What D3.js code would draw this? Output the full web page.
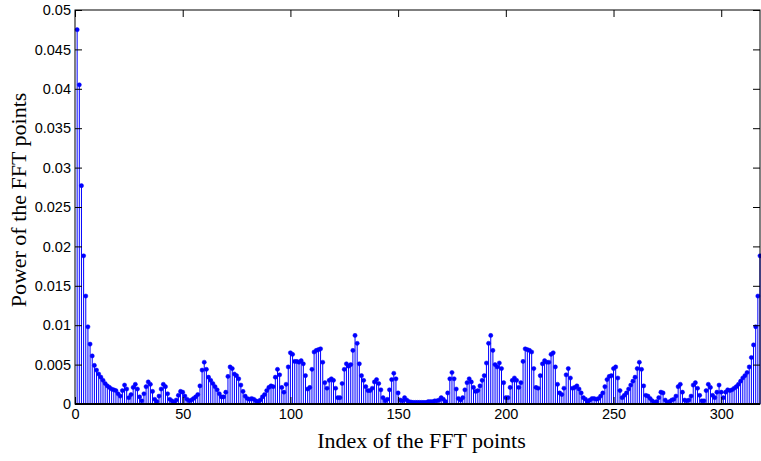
<!DOCTYPE html>
<html><head><meta charset="utf-8">
<script src="https://cdn.jsdelivr.net/npm/d3@7"></script>
<style>body{margin:0;background:#fff}svg{display:block}</style>
</head><body>
<svg id="chart" width="761" height="461"></svg>
<script>
const power = [
0.0475,0.0405,0.0277,0.0188,0.0137,0.0098,0.0076,0.0061,0.0049,0.0043,
0.0038,0.0034,0.0030,0.0026,0.0023,0.0021,0.0019,0.0018,0.0017,0.0013,
0.0010,0.0017,0.0024,0.0019,0.0008,0.0012,0.0021,0.0025,0.0019,0.0009,
0.0004,0.0013,0.0022,0.0028,0.0025,0.0016,0.0006,0.0003,0.0010,0.0019,
0.0025,0.0022,0.0013,0.0006,0.0004,0.0002,0.0005,0.0011,0.0016,0.0015,
0.0010,0.0006,0.0004,0.0005,0.0007,0.0009,0.0012,0.0023,0.0043,0.0053,
0.0044,0.0034,0.0030,0.0026,0.0022,0.0018,0.0013,0.0009,0.0009,0.0015,
0.0035,0.0047,0.0045,0.0038,0.0036,0.0032,0.0024,0.0016,0.0010,0.0007,
0.0006,0.0007,0.0006,0.0004,0.0003,0.0005,0.0009,0.0012,0.0017,0.0021,
0.0023,0.0022,0.0034,0.0044,0.0037,0.0021,0.0015,0.0025,0.0047,0.0065,
0.0063,0.0054,0.0054,0.0053,0.0055,0.0051,0.0036,0.0019,0.0021,0.0044,
0.0066,0.0068,0.0069,0.0070,0.0053,0.0027,0.0020,0.0030,0.0032,0.0030,
0.0020,0.0008,0.0008,0.0026,0.0044,0.0051,0.0048,0.0050,0.0068,0.0087,
0.0077,0.0051,0.0036,0.0030,0.0022,0.0017,0.0017,0.0020,0.0028,0.0031,
0.0026,0.0018,0.0008,0.0004,0.0006,0.0018,0.0031,0.0039,0.0032,0.0014,
0.0005,0.0004,0.0008,0.0005,0.0003,0.00025,0.0002,0.0002,0.0002,0.0002,
0.0002,0.0002,0.0002,0.0003,0.0003,0.0003,0.0004,0.0004,0.0005,0.0008,
0.0006,0.0003,0.0014,0.0032,0.0040,0.0032,0.0019,0.0007,0.0005,0.0008,
0.0018,0.0027,0.0032,0.0028,0.0021,0.0016,0.0017,0.0023,0.0030,0.0036,
0.0052,0.0077,0.0087,0.0068,0.0050,0.0047,0.0052,0.0045,0.0027,0.0008,
0.0008,0.0021,0.0030,0.0033,0.0030,0.0021,0.0027,0.0054,0.0070,0.0069,
0.0068,0.0066,0.0045,0.0021,0.0020,0.0036,0.0051,0.0055,0.0053,0.0053,
0.0063,0.0065,0.0047,0.0025,0.0014,0.0012,0.0020,0.0037,0.0045,0.0033,
0.0020,0.0021,0.0023,0.0019,0.0014,0.0008,0.0006,0.0003,0.0005,0.0007,
0.0007,0.0006,0.0007,0.0010,0.0014,0.0022,0.0031,0.0035,0.0036,0.0045,
0.0047,0.0033,0.0017,0.0008,0.0011,0.0014,0.0019,0.0024,0.0029,0.0034,
0.0045,0.0053,0.0044,0.0023,0.0011,0.0010,0.0007,0.0004,0.0002,0.0003,
0.0008,0.0015,0.0014,0.0005,0.0002,0.0003,0.0005,0.0006,0.0010,0.0022,
0.0025,0.0015,0.0005,0.0004,0.0005,0.0010,0.0024,0.0027,0.0020,0.0011,
0.0004,0.0004,0.0017,0.0025,0.0021,0.0011,0.0008,0.0015,0.0024,0.0015,
0.0008,0.0015,0.0018,0.0017,0.0018,0.0020,0.0022,0.0025,0.0029,0.0033,
0.0036,0.0040,0.0047,0.0059,0.0075,0.0098,0.0137,0.0188
];
const pointIndex = power.map((v, i) => i + 1);
const xTickValues = [0, 50, 100, 150, 200, 250, 300];
const yTickValues = [0, 0.005, 0.01, 0.015, 0.02, 0.025, 0.03, 0.035, 0.04, 0.045, 0.05];
const yTickLabels = ["0", "0.005", "0.01", "0.015", "0.02", "0.025", "0.03", "0.035", "0.04", "0.045", "0.05"];
const xLabel = "Index of the FFT points";
const yLabel = "Power of the FFT points";

const L = 75, R = 760, T = 10, B = 404;
const svg = d3.select("#chart");
const x = d3.scaleLinear().domain([0, 318]).range([L, R]);
const y = d3.scaleLinear().domain([0, 0.05]).range([B, T]);

const data = power.map((v, i) => ({ i: pointIndex[i], v }));
const blue = "#0000ff";

const plot = svg.append("g");
plot.selectAll("line.stem").data(data).enter().append("line")
  .attr("class", "stem")
  .attr("x1", d => x(d.i)).attr("x2", d => x(d.i))
  .attr("y1", y(0)).attr("y2", d => y(d.v))
  .attr("stroke", blue).attr("stroke-width", 1);
plot.selectAll("circle").data(data).enter().append("circle")
  .attr("cx", d => x(d.i)).attr("cy", d => y(d.v)).attr("r", 2.1)
  .attr("fill", blue).attr("stroke", blue).attr("stroke-width", 0.5);

const tickLen = 7;
const font = "'Liberation Sans', Arial, Helvetica, sans-serif";
const xAxisB = d3.axisBottom(x).tickValues(xTickValues).tickSize(-tickLen).tickPadding(5).tickFormat(d3.format("d"));
const xAxisT = d3.axisTop(x).tickValues(xTickValues).tickSize(-tickLen).tickFormat("");
const yAxisL = d3.axisLeft(y).tickValues(yTickValues).tickSize(-tickLen).tickPadding(4).tickFormat((d, i) => yTickLabels[i]);
const yAxisR = d3.axisRight(y).tickValues(yTickValues).tickSize(-tickLen).tickFormat("");

function styleAxis(g) {
  g.select(".domain").remove();
  g.selectAll(".tick line").attr("stroke", "#000").attr("stroke-width", 1);
  g.selectAll(".tick text").attr("fill", "#000").style("font-family", font).style("font-size", "14.5px");
}
svg.append("g").attr("transform", `translate(0,${B})`).call(xAxisB).call(styleAxis);
svg.append("g").attr("transform", `translate(0,${T})`).call(xAxisT).call(styleAxis);
svg.append("g").attr("transform", `translate(${L},0)`).call(yAxisL).call(styleAxis);
svg.append("g").attr("transform", `translate(${R},0)`).call(yAxisR).call(styleAxis);

svg.append("rect").attr("x", L).attr("y", T).attr("width", R - L).attr("height", B - T)
  .attr("fill", "none").attr("stroke", "#000").attr("stroke-width", 1);
svg.append("line").attr("x1", L).attr("x2", R).attr("y1", B).attr("y2", B)
  .attr("stroke", "#000").attr("stroke-width", 2);

svg.append("text").attr("x", (L + R) / 2 + 4).attr("y", 448).attr("text-anchor", "middle")
  .style("font-family", "'Liberation Serif', 'Times New Roman', serif").style("font-size", "22px").text(xLabel);
svg.append("text").attr("transform", "translate(26,200) rotate(-90)").attr("text-anchor", "middle")
  .style("font-family", "'Liberation Serif', 'Times New Roman', serif").style("font-size", "22px").text(yLabel);
</script>
</body></html>
